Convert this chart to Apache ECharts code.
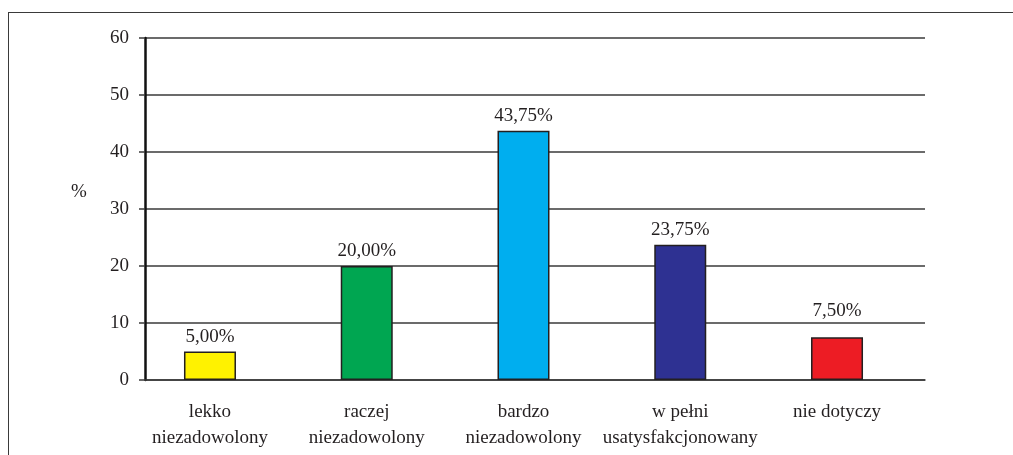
<!DOCTYPE html>
<html>
<head>
<meta charset="utf-8">
<script src="https://cdn.jsdelivr.net/npm/echarts@6/dist/echarts.min.js"></script>
<style>
  html, body { margin: 0; padding: 0; background: #fff; }
  #frame {
    position: absolute; left: 8px; top: 12px; width: 1100px; height: 500px;
    border: 1.5px solid #3a3a3a; box-sizing: border-box;
  }
  #chart { position: absolute; left: 0; top: 0; width: 1013px; height: 455px; }
</style>
</head>
<body>
<div id="frame"></div>
<div id="chart"></div>
<script>
const categories = ["lekko\nniezadowolony", "raczej\nniezadowolony", "bardzo\nniezadowolony", "w pełni\nusatysfakcjonowany", "nie dotyczy"];
const values = [5.0, 20.0, 43.75, 23.75, 7.5];
const barColors = ["#fff200", "#00a651", "#00aeef", "#2e3192", "#ed1c24"];
const yTicks = [0, 10, 20, 30, 40, 50, 60];

const font = "Liberation Serif";
const ink = "#231f20";

let chart = echarts.init(document.getElementById("chart"));
let option = {
  animation: false,
  textStyle: { fontFamily: font, color: ink },
  grid: [
    // grid with the value axis and horizontal lines
    { left: 145, right: 88, top: 38, bottom: 75 },
    // grid for bars (category band is a bit offset)
    { left: 131.6, right: 97.6, top: 38, bottom: 75 }
  ],
  graphic: [
    { type: "text", left: 71, top: 183, style: { text: "%", font: "19px " + font, fill: ink } }
  ],
  xAxis: [
    {
      gridIndex: 0, type: "category", data: categories,
      axisLine: { show: true, lineStyle: { color: "#3a3a3a", width: 1.5 } },
      axisTick: { show: false }, axisLabel: { show: false }
    },
    {
      gridIndex: 1, type: "category", data: categories,
      axisLine: { show: false }, axisTick: { show: false },
      axisLabel: {
        interval: 0, margin: 19, fontFamily: font, fontSize: 19,
        color: ink, lineHeight: 26
      }
    }
  ],
  yAxis: [
    {
      gridIndex: 0, type: "value", min: yTicks[0], max: yTicks[yTicks.length - 1], interval: 10,
      axisLine: { show: true, lineStyle: { color: "#111", width: 2.5 } },
      axisTick: { show: true, length: 6, lineStyle: { color: "#3a3a3a", width: 1.5 } },
      axisLabel: { margin: 16, fontFamily: font, fontSize: 19, color: ink },
      splitLine: { show: true, lineStyle: { color: "#3a3a3a", width: 1.5 } }
    },
    {
      gridIndex: 1, type: "value", min: yTicks[0], max: yTicks[yTicks.length - 1], interval: 10,
      show: false, splitLine: { show: false }
    }
  ],
  series: [
    {
      type: "bar", xAxisIndex: 1, yAxisIndex: 1,
      barWidth: 52,
      data: values.map((v, i) => ({
        value: v,
        itemStyle: { color: barColors[i], borderColor: ink, borderWidth: 1.5 },
        // last label sits higher, above the 10 line
        label: i === values.length - 1 ? { distance: 17 } : undefined
      })),
      label: {
        show: true, position: "top", distance: 5,
        fontFamily: font, fontSize: 19, color: ink,
        formatter: (p) => p.value.toFixed(2).replace(".", ",") + "%"
      }
    }
  ]
};
chart.setOption(option);
</script>
</body>
</html>
